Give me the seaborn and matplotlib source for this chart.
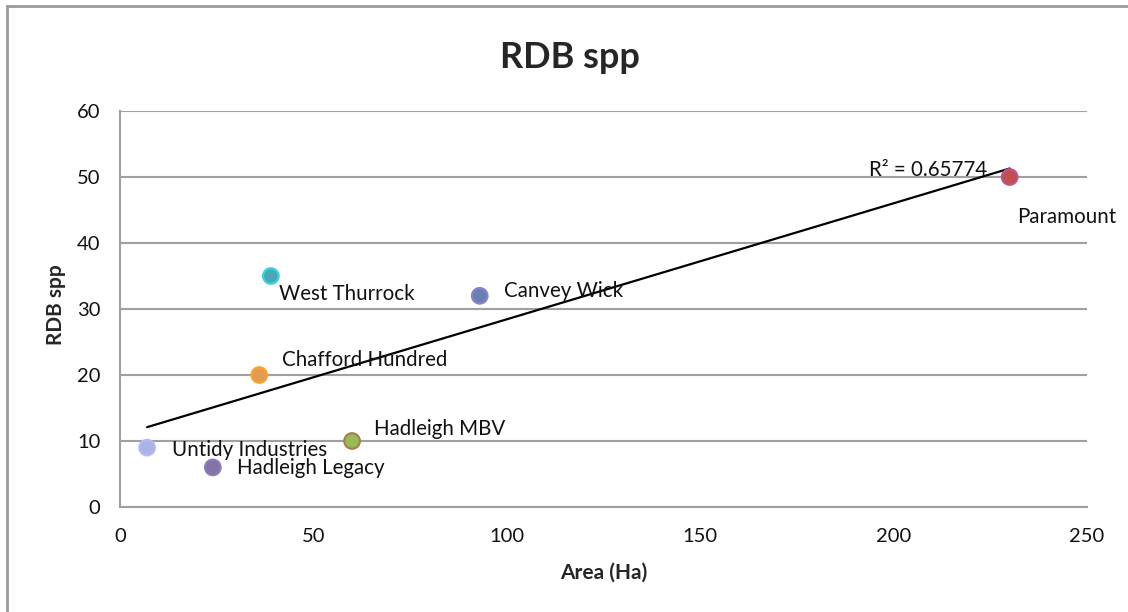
import numpy as np
import pandas as pd
import seaborn as sns
import matplotlib.pyplot as plt
from matplotlib.lines import Line2D

# data
sites = ['Untidy Industries', 'Hadleigh Legacy', 'Chafford Hundred', 'West Thurrock',
         'Hadleigh MBV', 'Canvey Wick', 'Paramount']
area_ha = [7, 24, 36, 39, 60, 93, 230]
rdb_spp = [9, 6, 20, 35, 10, 32, 50]

x_ticks = [0, 50, 100, 150, 200, 250]
y_ticks = [0, 10, 20, 30, 40, 50, 60]

# marker fill / edge colours (excel style)
fills = ['#a9b3e6', '#8672a8', '#e59a52', '#4ba6b8', '#9bbb59', '#6a7eb6', '#c0504d']
edges = ['#b3bcf2', '#8d7bb9', '#f7a52a', '#34d6df', '#a3824c', '#8584c4', '#c4508a']
# label offsets in pixels from each point
offsets = [(25, -2), (24, -1), (23, 15), (8, -18), (22, 12), (24, 5), (7, -40)]

df = pd.DataFrame({'site': sites, 'area': area_ha, 'rdb': rdb_spp})

sns.set_theme(style='white')
plt.rcParams['font.family'] = ['Lato', 'DejaVu Sans']

fig = plt.figure(figsize=(11.28, 6.12), dpi=100)
ax = fig.add_axes([120 / 1128, 1 - 507 / 612, 967 / 1128, 396 / 612])

ax.set_xlim(0, 250)
ax.set_ylim(0, 60)
ax.set_xticks(x_ticks)
ax.set_yticks(y_ticks)
ax.grid(axis='y', color='#a0a0a0', linewidth=1.5)
ax.set_axisbelow(True)

# trendline
sns.regplot(data=df, x='area', y='rdb', scatter=False, ci=None, ax=ax,
            line_kws={'color': 'black', 'linewidth': 1.6, 'zorder': 3})

sns.scatterplot(data=df, x='area', y='rdb', hue='site', palette=dict(zip(sites, fills)),
                s=125, linewidth=1.6, edgecolor=edges, legend=False, ax=ax, zorder=4)

for i, name in enumerate(sites):
    ax.annotate(name, (area_ha[i], rdb_spp[i]), xytext=offsets[i], textcoords='offset pixels',
                ha='left', va='center', fontsize=14.8, color='#111111')

slope, icpt = np.polyfit(area_ha, rdb_spp, 1)
r2 = np.corrcoef(area_ha, rdb_spp)[0, 1] ** 2
ax.text(193.6, 51.1, 'R² = %.5f' % r2, ha='left', va='center', fontsize=14.8, color='#111111')

for s in ['top', 'right']:
    ax.spines[s].set_visible(False)
for s in ['left', 'bottom']:
    ax.spines[s].set_color('#a0a0a0')
    ax.spines[s].set_linewidth(1.5)
ax.tick_params(axis='both', which='major', direction='out', length=6, width=1.5,
               color='#a0a0a0', labelsize=14.5, labelcolor='#111111')
ax.tick_params(axis='y', pad=8)
ax.tick_params(axis='x', pad=9)

ax.set_xlabel('Area (Ha)', fontsize=15, fontweight='bold', labelpad=13)
ax.set_ylabel('RDB spp', fontsize=15, fontweight='bold')
ax.yaxis.set_label_coords(-0.056, 0.51)

fig.text(570 / 1128, 1 - 58 / 612, 'RDB spp', ha='center', va='center',
         fontsize=26, fontweight='bold')

# outer chart border (only left and top visible in the crop)
fig.add_artist(Line2D([7 / 1128, 7 / 1128], [0, 1 - 6 / 612], color='#9a9a9a', linewidth=2))
fig.add_artist(Line2D([7 / 1128, 1], [1 - 6 / 612, 1 - 6 / 612], color='#9a9a9a', linewidth=2))

fig.savefig('out.png', dpi=100)
